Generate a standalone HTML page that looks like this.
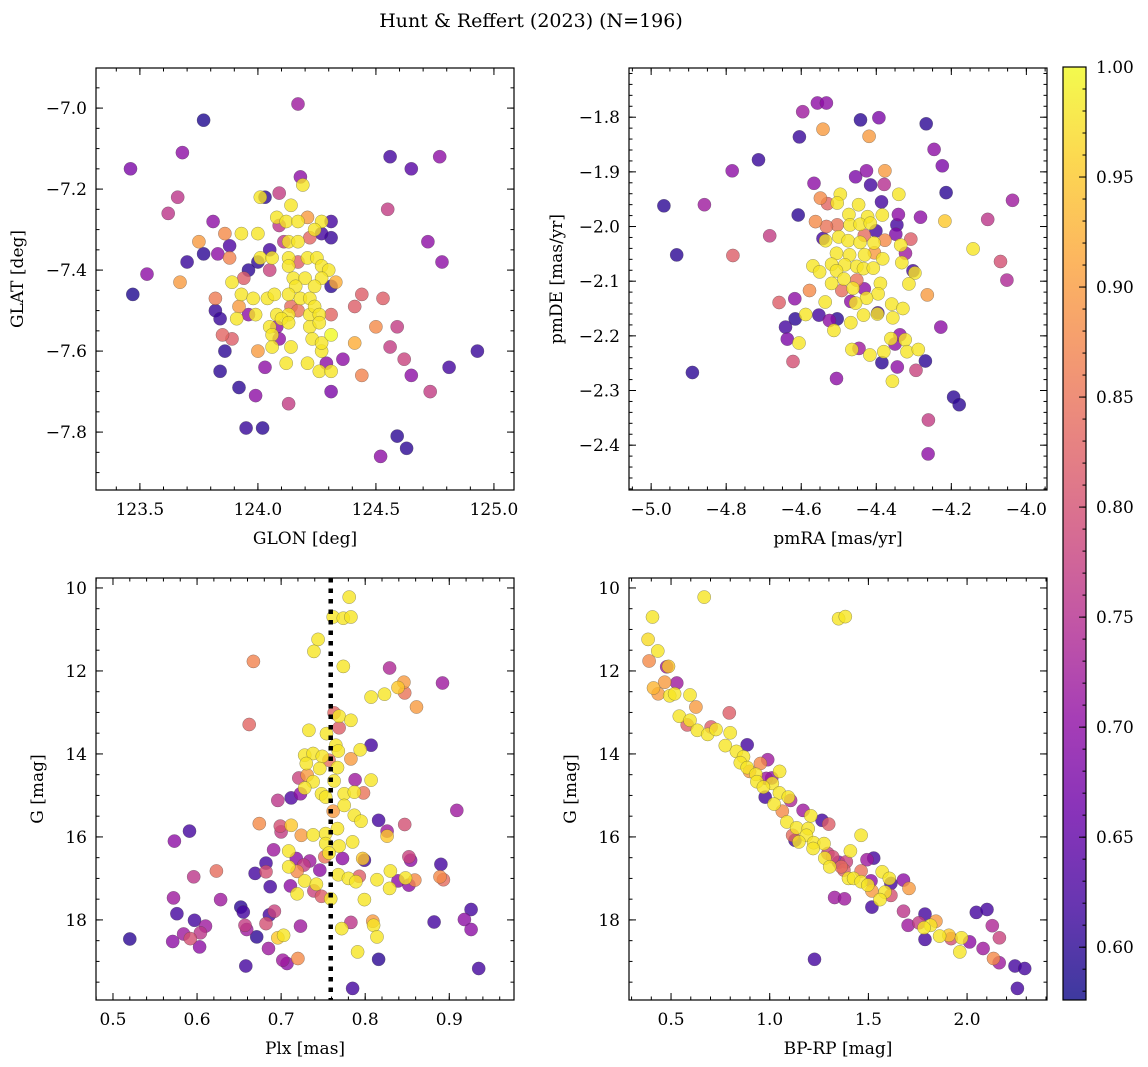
<!DOCTYPE html>
<html><head><meta charset="utf-8"><style>
html,body{margin:0;padding:0;background:#fff;}
svg{display:block;font-family:"DejaVu Serif","Liberation Serif",serif;}
</style></head><body>
<svg id="fig" width="1148" height="1067" viewBox="0 0 1148 1067" xmlns="http://www.w3.org/2000/svg">
<text x="531" y="27" font-size="19" text-anchor="middle">Hunt &amp; Reffert (2023) (N=196)</text>
</svg>
<script>
// Panel 1: GLON / GLAT
const glon=[124.17,123.77,123.68,123.46,124.56,124.65,124.77,123.66,123.62,124.55,123.81,123.86,123.75,123.88,123.77,123.83,123.88,123.70,123.53,123.47,123.67,124.72,124.78,123.82,123.82,123.84,123.85,123.89,123.86,123.84,123.92,123.99,124.13,123.95,124.02,124.31,124.03,124.00,124.36,124.44,124.41,124.50,124.56,124.62,124.65,124.73,124.81,124.93,124.59,124.53,124.44,124.41,124.59,124.63,124.52,124.31,124.31,124.19,124.01,124.14,124.08,124.12,124.17,124.27,124.24,123.93,124.00,124.13,124.17,124.01,124.06,124.13,124.21,124.25,124.13,124.27,124.30,123.89,124.15,124.20,124.27,124.16,124.24,124.33,123.93,123.98,124.04,124.07,124.13,124.18,124.22,123.92,123.99,123.91,124.08,124.13,124.17,124.22,124.24,124.26,124.05,124.10,124.13,124.22,124.26,124.06,124.23,124.06,124.14,124.27,124.27,124.12,124.21,124.26,124.31,124.03,124.09,124.18,124.21,124.31,124.31,124.27,124.22,124.05,124.00,123.96,123.94,124.05,124.17,124.31,123.96,124.08,124.09,124.14,124.29,124.09,124.11];
const glat=[-6.99,-7.03,-7.11,-7.15,-7.12,-7.15,-7.12,-7.22,-7.26,-7.25,-7.28,-7.31,-7.33,-7.34,-7.36,-7.36,-7.37,-7.38,-7.41,-7.46,-7.43,-7.33,-7.38,-7.47,-7.50,-7.52,-7.56,-7.57,-7.60,-7.65,-7.69,-7.71,-7.73,-7.79,-7.79,-7.70,-7.64,-7.60,-7.62,-7.66,-7.58,-7.54,-7.59,-7.62,-7.66,-7.70,-7.64,-7.60,-7.54,-7.47,-7.46,-7.49,-7.81,-7.84,-7.86,-7.51,-7.56,-7.19,-7.22,-7.24,-7.27,-7.28,-7.28,-7.28,-7.30,-7.31,-7.31,-7.33,-7.33,-7.37,-7.37,-7.37,-7.37,-7.37,-7.39,-7.39,-7.40,-7.43,-7.42,-7.42,-7.42,-7.44,-7.44,-7.43,-7.46,-7.47,-7.47,-7.46,-7.46,-7.47,-7.47,-7.49,-7.51,-7.52,-7.51,-7.51,-7.50,-7.51,-7.49,-7.51,-7.54,-7.52,-7.53,-7.54,-7.53,-7.56,-7.57,-7.59,-7.59,-7.60,-7.58,-7.63,-7.63,-7.65,-7.65,-7.22,-7.21,-7.17,-7.27,-7.28,-7.32,-7.31,-7.32,-7.35,-7.38,-7.40,-7.42,-7.40,-7.38,-7.44,-7.51,-7.54,-7.57,-7.49,-7.63,-7.29,-7.33];
const prob1=[.72,.59,.70,.68,.62,.64,.70,.76,.76,.77,.70,.88,.90,.63,.60,.70,.87,.61,.70,.59,.90,.70,.70,.86,.61,.61,.83,.82,.60,.60,.60,.70,.77,.61,.60,.68,.70,.90,.70,.87,.92,.88,.77,.78,.70,.77,.62,.61,.77,.82,.82,.82,.60,.60,.70,.83,1,.98,.98,.98,.98,.98,.98,.98,.98,.98,.98,.98,.98,.98,.98,.98,.98,.98,.98,.98,.98,.98,.98,.98,.98,.98,.98,.92,.98,.98,.98,.98,.98,.98,.98,.90,.98,.98,.98,.98,.85,.98,.98,.98,.98,.98,.98,.98,.98,.98,.98,.98,.98,.98,.98,.98,.98,.98,.98,.60,.77,.70,.90,.62,.61,.62,.83,.62,.60,.60,.82,.78,.82,.60,.70,.70,.70,.84,.70,.76,.76];

// Panel 2: pmRA / pmDE
const pmra=[-4.557,-4.533,-4.596,-4.542,-4.442,-4.393,-4.267,-4.419,-4.605,-4.714,-4.784,-4.246,-4.224,-4.214,-4.037,-4.966,-4.858,-4.566,-4.455,-4.426,-4.377,-4.415,-4.379,-4.340,-4.496,-4.549,-4.530,-4.608,-4.684,-4.932,-4.782,-4.282,-4.217,-4.103,-4.142,-4.069,-4.052,-4.386,-4.341,-4.308,-4.345,-4.348,-4.562,-4.542,-4.504,-4.401,-4.377,-4.322,-4.302,-4.264,-4.578,-4.659,-4.617,-4.492,-4.432,-4.468,-4.616,-4.642,-4.637,-4.553,-4.525,-4.504,-4.622,-4.890,-4.506,-4.228,-4.269,-4.294,-4.344,-4.385,-4.350,-4.337,-4.446,-4.396,-4.194,-4.179,-4.261,-4.262,-4.447,-4.504,-4.473,-4.423,-4.384,-4.470,-4.443,-4.416,-4.500,-4.535,-4.475,-4.443,-4.406,-4.335,-4.506,-4.471,-4.431,-4.383,-4.332,-4.569,-4.519,-4.484,-4.506,-4.452,-4.434,-4.408,-4.551,-4.297,-4.486,-4.519,-4.462,-4.389,-4.313,-4.395,-4.426,-4.536,-4.455,-4.588,-4.359,-4.329,-4.397,-4.356,-4.434,-4.468,-4.513,-4.606,-4.361,-4.323,-4.465,-4.417,-4.380,-4.318,-4.288,-4.357,-4.533,-4.432,-4.405,-4.452];
const pmde=[-1.774,-1.774,-1.790,-1.822,-1.805,-1.801,-1.812,-1.835,-1.836,-1.878,-1.898,-1.859,-1.889,-1.938,-1.952,-1.962,-1.960,-1.921,-1.909,-1.898,-1.898,-1.924,-1.923,-1.941,-1.941,-1.948,-1.958,-1.979,-2.017,-2.052,-2.053,-1.983,-1.990,-1.987,-2.041,-2.064,-2.098,-1.955,-1.978,-2.023,-1.997,-2.014,-1.991,-2.022,-1.997,-2.008,-2.025,-2.049,-2.081,-2.125,-2.117,-2.139,-2.132,-2.117,-2.114,-2.137,-2.169,-2.184,-2.206,-2.162,-2.172,-2.169,-2.247,-2.267,-2.278,-2.184,-2.246,-2.263,-2.257,-2.249,-2.215,-2.198,-2.223,-2.158,-2.312,-2.326,-2.354,-2.416,-1.960,-1.957,-1.978,-1.982,-1.979,-1.997,-1.996,-1.994,-2.019,-2.026,-2.026,-2.029,-2.030,-2.034,-2.049,-2.052,-2.052,-2.059,-2.066,-2.072,-2.069,-2.070,-2.081,-2.073,-2.077,-2.076,-2.083,-2.085,-2.096,-2.104,-2.113,-2.104,-2.105,-2.123,-2.131,-2.138,-2.140,-2.161,-2.142,-2.150,-2.160,-2.167,-2.162,-2.176,-2.190,-2.213,-2.205,-2.207,-2.225,-2.235,-2.229,-2.229,-2.225,-2.283,-2.000,-2.016,-2.048,-2.098];
const prob2=[.70,.70,.72,.90,.60,.68,.60,.90,.61,.61,.70,.70,.68,.60,.72,.60,.72,.70,.68,.70,.90,.62,.75,.98,.98,.88,.83,.60,.77,.60,.82,.70,.95,.76,.98,.80,.74,.62,.70,.82,.62,.68,.88,.62,.85,.62,.88,.72,.62,.90,.88,.82,.70,.84,.70,.70,.60,.62,.68,.62,.70,.60,.80,.60,.70,.70,.60,.78,.70,.60,.70,.70,.72,.62,.60,.60,.77,.70,.98,.98,.98,.98,.98,.98,.98,.98,.98,.98,.98,.98,.98,.98,.98,.98,.98,.98,.98,.98,.98,.98,.98,.98,.98,.98,.98,.98,.98,.98,.98,.98,.98,.98,.98,.98,.98,.98,.98,.98,.98,.98,.98,.98,.98,.98,.98,.98,.98,.98,.98,.98,.98,.98,.85,.84,.90,.85];

// Panel 3: Plx / G
const plx=[0.781,0.762,0.774,0.783,0.744,0.739,0.667,0.774,0.829,0.892,0.846,0.839,0.847,0.823,0.807,0.861,0.662,0.763,0.769,0.783,0.769,0.733,0.754,0.807,0.765,0.794,0.768,0.728,0.738,0.749,0.783,0.730,0.757,0.767,0.746,0.807,0.788,0.721,0.731,0.738,0.763,0.728,0.723,0.748,0.775,0.787,0.798,0.696,0.712,0.753,0.775,0.762,0.909,0.787,0.795,0.816,0.674,0.699,0.712,0.847,0.700,0.724,0.738,0.753,0.767,0.826,0.826,0.591,0.573,0.753,0.769,0.785,0.691,0.709,0.757,0.752,0.773,0.797,0.799,0.852,0.854,0.890,0.718,0.734,0.682,0.727,0.709,0.719,0.746,0.682,0.669,0.623,0.596,0.768,0.780,0.793,0.789,0.814,0.830,0.848,0.859,0.839,0.852,0.829,0.889,0.893,0.728,0.742,0.687,0.711,0.719,0.739,0.748,0.759,0.799,0.572,0.628,0.652,0.655,0.576,0.692,0.686,0.597,0.610,0.682,0.657,0.659,0.604,0.584,0.592,0.520,0.571,0.603,0.671,0.696,0.703,0.723,0.685,0.783,0.809,0.810,0.772,0.814,0.882,0.918,0.926,0.926,0.791,0.816,0.702,0.707,0.720,0.658,0.935,0.785];
const gmag3=[10.22,10.70,10.73,10.70,11.24,11.53,11.77,11.89,11.93,12.29,12.27,12.40,12.53,12.56,12.63,12.87,13.29,13.01,13.09,13.19,13.37,13.43,13.51,13.79,13.79,13.90,13.93,14.03,13.99,14.06,14.12,14.23,14.15,14.33,14.35,14.63,14.62,14.58,14.51,14.67,14.65,14.82,14.96,14.96,14.96,14.92,14.94,15.12,15.06,15.04,15.24,15.38,15.36,15.48,15.62,15.60,15.68,15.74,15.72,15.70,15.88,15.96,15.95,15.92,15.80,15.86,15.98,15.86,16.10,16.16,16.22,16.12,16.31,16.34,16.39,16.48,16.52,16.52,16.56,16.48,16.56,16.66,16.52,16.58,16.63,16.68,16.72,16.83,16.80,16.84,16.88,16.82,16.96,16.91,17.00,16.95,17.08,17.03,16.82,16.99,17.04,17.06,17.16,17.24,16.96,17.03,17.06,17.14,17.20,17.18,17.37,17.30,17.43,17.49,17.51,17.47,17.51,17.69,17.81,17.85,17.79,17.88,18.01,18.15,18.09,18.13,18.23,18.31,18.34,18.45,18.46,18.52,18.65,18.41,18.43,18.37,18.15,18.69,18.06,18.03,18.13,18.21,18.41,18.05,17.99,17.75,18.23,18.77,18.95,18.97,19.05,18.93,19.11,19.17,19.65];
const prob3=[.98,.98,.98,.98,.98,.98,.87,.98,.74,.72,.90,.95,.85,.98,.98,.90,.83,.83,.98,.98,.82,.98,.98,.62,.98,.98,.98,.98,.98,.98,.90,.98,.84,.98,.98,.98,.72,.78,.90,.98,.98,.98,.70,.98,.98,.98,.85,.76,.63,.98,.98,.90,.72,.98,.98,.62,.88,.80,.95,.80,.77,.90,.98,.98,.98,.72,.95,.62,.70,.98,.98,.98,.72,.98,.98,.85,.70,.95,.62,.78,.70,.62,.70,.72,.62,.77,.98,.88,.70,.80,.62,.84,.76,.98,.98,.82,.98,.98,.98,.98,.88,.70,.70,.98,.88,.84,.98,.98,.62,.70,.98,.78,.82,.98,.98,.72,.72,.60,.62,.62,.78,.62,.62,.72,.80,.77,.72,.76,.72,.80,.60,.70,.70,.60,.95,.98,.72,.72,.76,.90,.98,.98,.98,.62,.70,.62,.70,.98,.60,.72,.70,.88,.62,.62,.62];

// Panel 4: BP-RP / G
const bprp=[0.668,0.406,1.349,1.383,0.384,0.433,0.389,0.478,0.487,0.529,0.468,0.411,0.435,0.493,0.518,0.596,0.626,0.795,0.542,0.596,0.582,0.703,0.633,0.686,0.728,0.800,0.886,0.775,0.831,0.867,0.990,0.953,0.851,0.886,1.050,0.930,0.982,0.935,1.013,0.968,0.977,1.049,1.094,1.106,1.022,1.064,1.169,1.208,1.265,1.299,1.087,1.136,1.195,1.116,1.463,1.186,1.148,1.223,1.275,1.409,1.220,1.319,1.279,1.493,1.527,1.388,1.349,1.304,1.376,1.463,1.570,1.399,1.425,1.463,1.513,1.497,1.606,1.614,1.678,1.706,1.584,1.614,1.518,1.329,1.379,1.559,1.518,1.678,1.787,2.047,2.101,1.701,1.756,1.842,1.815,1.782,2.128,2.164,1.787,1.861,1.908,1.919,1.972,2.013,1.963,2.081,2.134,2.163,1.227,2.243,2.292,2.255,0.898,1.010,1.295,1.362,1.128];
const gmag4=[10.22,10.70,10.74,10.69,11.24,11.52,11.76,11.90,11.89,12.29,12.27,12.41,12.55,12.60,12.55,12.58,12.87,13.01,13.09,13.19,13.30,13.35,13.43,13.53,13.41,13.49,13.78,13.80,13.94,14.07,14.14,14.23,14.21,14.33,14.42,14.49,14.59,14.67,14.71,14.80,15.04,14.94,15.04,15.12,15.21,15.38,15.36,15.49,15.60,15.69,15.64,15.78,15.80,15.96,15.96,15.96,16.12,16.14,16.16,16.34,16.28,16.48,16.51,16.55,16.51,16.60,16.61,16.72,16.80,16.82,16.84,17.00,17.00,17.08,17.06,17.16,17.00,17.12,17.04,17.24,17.33,17.41,17.30,17.46,17.49,17.51,17.69,17.79,17.86,17.82,17.75,18.13,18.07,18.03,18.13,18.19,18.14,18.43,18.47,18.39,18.37,18.45,18.43,18.53,18.77,18.69,18.93,19.03,18.95,19.11,19.17,19.65,14.42,14.58,16.40,16.72,16.08];
const prob4=[.98,.98,.98,.98,.97,.98,.88,.72,.95,.72,.90,.93,.90,.98,.98,.98,.90,.82,.98,.98,.82,.82,.98,.98,.98,.98,.62,.98,.98,.98,.72,.88,.98,.98,.98,.98,.72,.98,.98,.98,.62,.98,.98,.74,.98,.88,.72,.98,.62,.82,.98,.98,.98,.84,.98,.98,.98,.98,.98,.98,.98,.80,.98,.72,.62,.78,.70,.98,.82,.85,.98,.98,.98,.98,.70,.98,.98,.62,.70,.90,.98,.80,.90,.72,.72,.98,.62,.76,.62,.62,.62,.72,.77,.90,.98,.98,.74,.78,.62,.98,.95,.80,.98,.70,.98,.72,.88,.72,.62,.62,.62,.62,.90,.70,.78,.84,.62];

const plxLine=0.759;
const cbMin=0.576, cbMax=1.0;
const cbTicks=[0.60,0.65,0.70,0.75,0.80,0.85,0.90,0.95,1.00];

const NS="http://www.w3.org/2000/svg";
const svg=document.getElementById('fig');
function mk(tag,attrs,parent){const e=document.createElementNS(NS,tag);for(const k in attrs)e.setAttribute(k,attrs[k]);(parent||svg).appendChild(e);return e;}
const PL=[[13,8,135],[65,4,157],[106,0,168],[143,13,164],[177,42,144],[204,71,120],[225,100,98],[242,132,75],[252,166,54],[252,206,37],[240,249,33]];
function plasma(t){t=Math.max(0,Math.min(1,t));const f=t*10,i=Math.min(9,Math.floor(f)),r=f-i;const a=PL[i],b=PL[i+1];return 'rgb('+[0,1,2].map(k=>Math.round(a[k]+(b[k]-a[k])*r)).join(',')+')';}
function fmt(v,d){const s=Math.abs(v).toFixed(d);return (v<-1e-9?'\u2212':'')+s;}

function panel(o){
  const g=mk('g',{});
  
  
  const sx=v=>o.x0+(v-o.xmin)/(o.xmax-o.xmin)*o.w;
  const sy=o.yinv?(v=>o.y0+(v-o.ymin)/(o.ymax-o.ymin)*o.h):(v=>o.y0+(o.ymax-v)/(o.ymax-o.ymin)*o.h);
  const clip=mk('clipPath',{id:'clip-'+o.name},g);mk('rect',{x:o.x0,y:o.y0,width:o.w,height:o.h},clip);
  const pts=mk('g',{'clip-path':'url(#clip-'+o.name+')'},g);
  
  
  const idx=o.xs.map((_,i)=>i).sort((a,b)=>o.cs[a]-o.cs[b]);
  idx.forEach(i=>{
    const c=mk('circle',{cx:sx(o.xs[i]).toFixed(1),cy:sy(o.ys[i]).toFixed(1),r:6.6,fill:plasma((o.cs[i]-cbMin)/(cbMax-cbMin)),'fill-opacity':0.8,stroke:'rgba(70,70,70,0.55)','stroke-width':0.5},pts);
    
    
  });
  if(o.vline!==undefined){
    const l=mk('line',{x1:sx(o.vline),x2:sx(o.vline),y1:o.y0,y2:o.y0+o.h,stroke:'#000','stroke-width':4.5,'stroke-dasharray':'4.5 6'},g);
    
    
  }
  const tk=mk('g',{stroke:'#000','stroke-width':1},g);
  const n=(a,b,s)=>{const r=[];for(let v=Math.ceil(a/s-1e-6)*s;v<=b+1e-9;v+=s)r.push(Math.round(v/s)*s);return r;};
  n(o.xmin,o.xmax,o.xminor).forEach(v=>{const x=sx(v);mk('line',{x1:x,x2:x,y1:o.y0+o.h,y2:o.y0+o.h-3.5},tk);mk('line',{x1:x,x2:x,y1:o.y0,y2:o.y0+3.5},tk);});
  n(o.ymin,o.ymax,o.yminor).forEach(v=>{const y=sy(v);mk('line',{x1:o.x0,x2:o.x0+3.5,y1:y,y2:y},tk);mk('line',{x1:o.x0+o.w,x2:o.x0+o.w-3.5,y1:y,y2:y},tk);});
  o.xticks.forEach(v=>{const x=sx(v);mk('line',{x1:x,x2:x,y1:o.y0+o.h,y2:o.y0+o.h-7},tk);mk('line',{x1:x,x2:x,y1:o.y0,y2:o.y0+7},tk);
    const t=mk('text',{x:x,y:o.y0+o.h+25,'font-size':17,'text-anchor':'middle'},g);t.textContent=fmt(v,o.xd);
    
    });
  o.yticks.forEach(v=>{const y=sy(v);mk('line',{x1:o.x0,x2:o.x0+7,y1:y,y2:y},tk);mk('line',{x1:o.x0+o.w,x2:o.x0+o.w-7,y1:y,y2:y},tk);
    const t=mk('text',{x:o.x0-9,y:y+6,'font-size':17,'text-anchor':'end'},g);t.textContent=fmt(v,o.yd);
    
    });
  const fr=mk('rect',{x:o.x0,y:o.y0,width:o.w,height:o.h,fill:'none',stroke:'#000','stroke-width':1.2},g);
  
  
  const xt=mk('text',{x:o.x0+o.w/2,y:o.y0+o.h+54,'font-size':17,'text-anchor':'middle'},g);xt.textContent=o.xlabel;
  
  
  const yt=mk('text',{x:0,y:0,'font-size':17,'text-anchor':'middle',transform:'translate('+o.ytx+','+(o.y0+o.h/2)+') rotate(-90)'},g);yt.textContent=o.ylabel;
  
  
}

panel({name:'sky-position-panel',x0:96,y0:68,w:418,h:422,xmin:123.314,xmax:125.085,ymin:-7.943,ymax:-6.901,xs:glon,ys:glat,cs:prob1,
  xticks:[123.5,124.0,124.5,125.0],xd:1,xminor:0.1,yticks:[-7.8,-7.6,-7.4,-7.2,-7.0],yd:1,yminor:0.05,xlabel:'GLON [deg]',ylabel:'GLAT [deg]',ytx:23});
panel({name:'proper-motion-panel',x0:629,y0:68,w:418,h:422,xmin:-5.059,xmax:-3.945,ymin:-2.482,ymax:-1.710,xs:pmra,ys:pmde,cs:prob2,
  xticks:[-5.0,-4.8,-4.6,-4.4,-4.2,-4.0],xd:1,xminor:0.05,yticks:[-2.4,-2.3,-2.2,-2.1,-2.0,-1.9,-1.8],yd:1,yminor:0.02,xlabel:'pmRA [mas/yr]',ylabel:'pmDE [mas/yr]',ytx:562});
panel({name:'parallax-magnitude-panel',x0:96,y0:578,w:418,h:422,xmin:0.4798,xmax:0.977,ymin:9.76,ymax:19.93,yinv:true,xs:plx,ys:gmag3,cs:prob3,vline:plxLine,
  xticks:[0.5,0.6,0.7,0.8,0.9],xd:1,xminor:0.02,yticks:[10,12,14,16,18],yd:0,yminor:0.5,xlabel:'Plx [mas]',ylabel:'G [mag]',ytx:43});
panel({name:'cmd-panel',x0:629,y0:578,w:418,h:422,xmin:0.287,xmax:2.405,ymin:9.76,ymax:19.93,yinv:true,xs:bprp,ys:gmag4,cs:prob4,
  xticks:[0.5,1.0,1.5,2.0],xd:1,xminor:0.1,yticks:[10,12,14,16,18],yd:0,yminor:0.5,xlabel:'BP-RP [mag]',ylabel:'G [mag]',ytx:576});

(function(){
  const cb=mk('g',{});
  
  
  const x0=1063,w=23,y0=67,h=933;
  const defs=mk('defs',{},cb);const lg=mk('linearGradient',{id:'cbg',x1:0,y1:1,x2:0,y2:0},defs);
  for(let i=0;i<=20;i++){mk('stop',{offset:(i/20),'stop-color':plasma(i/20),'stop-opacity':0.8},lg);}
  const r=mk('rect',{x:x0,y:y0,width:w,height:h,fill:'url(#cbg)',stroke:'#000','stroke-width':1.2},cb);
  
  
  const sy=v=>y0+(cbMax-v)/(cbMax-cbMin)*h;
  for(let k=58;k<=100;k++){const v=k/100;if(v<cbMin)continue;const y=sy(v);mk('line',{x1:x0+w,x2:x0+w-3.5,y1:y,y2:y,stroke:'#000','stroke-width':1},cb);}
  cbTicks.forEach(v=>{const y=sy(v);mk('line',{x1:x0+w,x2:x0+w-7,y1:y,y2:y,stroke:'#000','stroke-width':1},cb);
    const t=mk('text',{x:x0+w+10,y:y+6,'font-size':17},cb);t.textContent=v.toFixed(2);
    
    });
})();
</script>
</body></html>
